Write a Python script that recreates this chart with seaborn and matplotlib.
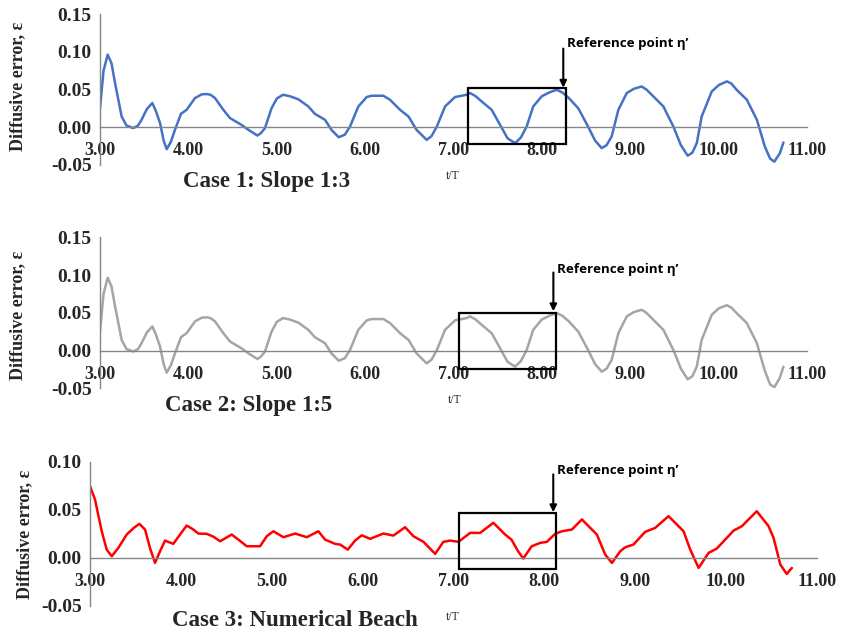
import matplotlib
matplotlib.use("Agg")
import matplotlib.pyplot as plt
from matplotlib.patches import Rectangle
from matplotlib.ticker import FormatStrFormatter, MultipleLocator
import seaborn as sns
import pandas as pd

# ---- Case 1: Slope 1:3 ----
t_case1 = [3.00, 3.04, 3.087, 3.13, 3.17, 3.245, 3.30, 3.377, 3.43, 3.47, 3.53, 3.592, 3.63, 3.68,
           3.72, 3.754, 3.80, 3.848, 3.916, 3.98, 4.075, 4.15, 4.207, 4.25, 4.30, 4.395, 4.47, 4.60,
           4.678, 4.78, 4.82, 4.866, 4.94, 5.00, 5.07, 5.15, 5.243, 5.356, 5.43, 5.545, 5.62, 5.70,
           5.77, 5.828, 5.922, 6.017, 6.07, 6.205, 6.28, 6.394, 6.49, 6.58, 6.695, 6.75, 6.81, 6.903,
           7.016, 7.148, 7.186, 7.25, 7.318, 7.43, 7.525, 7.61, 7.695, 7.76, 7.826, 7.90, 7.997, 8.08,
           8.166, 8.23, 8.30, 8.41, 8.52, 8.60, 8.675, 8.73, 8.787, 8.863, 8.958, 9.04, 9.126, 9.18,
           9.24, 9.372, 9.485, 9.57, 9.647, 9.70, 9.75, 9.805, 9.92, 10.00, 10.09, 10.14, 10.20,
           10.316, 10.43, 10.52, 10.58, 10.628, 10.69, 10.73]
eps_case1 = [0.025, 0.075, 0.0964, 0.085, 0.0587, 0.014, 0.002, -0.0013, 0.002, 0.0097, 0.024, 0.032,
             0.022, 0.005, -0.018, -0.0293, -0.020, -0.0036, 0.0177, 0.023, 0.0387, 0.0435, 0.044,
             0.043, 0.0387, 0.023, 0.012, 0.003, -0.0036, -0.0112, -0.008, -0.0013, 0.025, 0.038,
             0.043, 0.041, 0.037, 0.0275, 0.0177, 0.0097, -0.004, -0.0135, -0.010, 0.0008, 0.0275,
             0.040, 0.0417, 0.0417, 0.0364, 0.023, 0.014, -0.0036, -0.017, -0.012, 0.0008, 0.0275,
             0.040, 0.043, 0.0453, 0.041, 0.034, 0.023, 0.003, -0.015, -0.0213, -0.014, 0.0008,
             0.0275, 0.041, 0.046, 0.0497, 0.046, 0.039, 0.025, 0.0008, -0.018, -0.028, -0.024,
             -0.0125, 0.023, 0.0453, 0.051, 0.054, 0.050, 0.043, 0.0275, 0.0008, -0.024, -0.038,
             -0.034, -0.0213, 0.014, 0.0475, 0.056, 0.0608, 0.058, 0.0497, 0.0364, 0.0097, -0.026,
             -0.042, -0.0459, -0.0347, -0.0205]

# ---- Case 2: Slope 1:5 ----
t_case2 = list(t_case1)
eps_case2 = [0.025, 0.075, 0.0964, 0.085, 0.0587, 0.014, 0.002, -0.0013, 0.002, 0.0097, 0.024, 0.032,
             0.022, 0.005, -0.018, -0.0293, -0.020, -0.0036, 0.0177, 0.023, 0.0387, 0.0435, 0.044,
             0.043, 0.0387, 0.023, 0.012, 0.003, -0.0036, -0.0112, -0.008, -0.0013, 0.025, 0.038,
             0.043, 0.041, 0.037, 0.0275, 0.0177, 0.0097, -0.004, -0.0135, -0.010, 0.0008, 0.0275,
             0.040, 0.0417, 0.0417, 0.0364, 0.023, 0.014, -0.0036, -0.017, -0.012, 0.0008, 0.0275,
             0.040, 0.043, 0.0453, 0.041, 0.034, 0.023, 0.003, -0.015, -0.0213, -0.014, 0.0008,
             0.0275, 0.041, 0.046, 0.0497, 0.046, 0.039, 0.025, 0.0008, -0.018, -0.028, -0.024,
             -0.0125, 0.023, 0.0453, 0.051, 0.054, 0.050, 0.043, 0.0275, 0.0008, -0.024, -0.038,
             -0.034, -0.0213, 0.014, 0.0475, 0.056, 0.0600, 0.057, 0.0497, 0.0364, 0.0097, -0.027,
             -0.045, -0.0485, -0.036, -0.0215]

# ---- Case 3: Numerical Beach ----
t_case3 = [3.00, 3.055, 3.129, 3.184, 3.239, 3.312, 3.404, 3.48, 3.543, 3.606, 3.66, 3.716, 3.771,
           3.826, 3.917, 3.991, 4.064, 4.13, 4.193, 4.285, 4.36, 4.432, 4.56, 4.633, 4.726, 4.872,
           4.946, 5.019, 5.129, 5.258, 5.387, 5.514, 5.588, 5.698, 5.753, 5.838, 5.918, 5.992, 6.084,
           6.23, 6.34, 6.469, 6.561, 6.671, 6.80, 6.89, 6.965, 7.056, 7.185, 7.295, 7.44, 7.57, 7.64,
           7.713, 7.77, 7.862, 7.956, 8.03, 8.12, 8.195, 8.305, 8.415, 8.488, 8.58, 8.672, 8.746,
           8.837, 8.892, 8.983, 9.112, 9.222, 9.369, 9.461, 9.534, 9.608, 9.70, 9.81, 9.90, 9.993,
           10.085, 10.177, 10.34, 10.47, 10.525, 10.60, 10.67, 10.727]
eps_case3 = [0.0746, 0.0607, 0.0277, 0.0086, 0.0017, 0.0104, 0.0243, 0.031, 0.0354, 0.0295, 0.0104,
             -0.0052, 0.0069, 0.018, 0.0146, 0.0243, 0.0336, 0.030, 0.0253, 0.025, 0.022, 0.0173,
             0.0243, 0.019, 0.0121, 0.0121, 0.0225, 0.0277, 0.0215, 0.0253, 0.0215, 0.0277, 0.019,
             0.0146, 0.0139, 0.0086, 0.018, 0.0235, 0.0198, 0.0253, 0.0232, 0.0319, 0.0225, 0.0167,
             0.0042, 0.0167, 0.018, 0.0167, 0.026, 0.026, 0.0365, 0.0243, 0.019, 0.0069, -0.0007,
             0.0121, 0.0156, 0.0167, 0.025, 0.0277, 0.0295, 0.040, 0.033, 0.0243, 0.0034, -0.0052,
             0.0069, 0.011, 0.0139, 0.0271, 0.0312, 0.0434, 0.0347, 0.0277, 0.0086, -0.0104, 0.0052,
             0.0097, 0.019, 0.0284, 0.033, 0.0485, 0.033, 0.0208, -0.007, -0.0167, -0.0104]

case_titles = ["Case 1: Slope 1:3", "Case 2: Slope 1:5", "Case 3: Numerical Beach"]
x_ticks = [3, 4, 5, 6, 7, 8, 9, 10, 11]

sns.set_style("white")
plt.rcParams["font.family"] = ["Liberation Serif", "DejaVu Serif"]
plt.rcParams["font.weight"] = "bold"

W, H = 842, 634
fig = plt.figure(figsize=(W / 100, H / 100), dpi=100)
AXIS_GRAY = "#868686"


def px_axes(x0, x1, y_top, y_bot):
    return fig.add_axes([x0 / W, 1 - y_bot / H, (x1 - x0) / W, (y_bot - y_top) / H])


panels = [
    dict(t=t_case1, e=eps_case1, color="#4472C4", ylim=(-0.05, 0.15),
         rect=(100, 807.3, 14.3, 164.7), title_xy=(267, 182), tT_xy=(453, 176), ylab_xy=(18, 86),
         box=(7.16, -0.0223, 8.27, 0.0515), arrow=(8.24, 0.1044, 0.0524), ref_xy=(8.285, 0.111)),
    dict(t=t_case2, e=eps_case2, color="#A5A5A5", ylim=(-0.05, 0.15),
         rect=(100, 807.3, 237.3, 388.3), title_xy=(249, 405), tT_xy=(455, 400), ylab_xy=(18, 315),
         box=(7.06, -0.0239, 8.16, 0.050), arrow=(8.128, 0.1034, 0.0521), ref_xy=(8.17, 0.1074)),
    dict(t=t_case3, e=eps_case3, color="#FF0000", ylim=(-0.05, 0.10),
         rect=(90, 816.7, 461.7, 606), title_xy=(295, 620), tT_xy=(453, 617), ylab_xy=(25, 534),
         box=(7.06, -0.0115, 8.13, 0.0469), arrow=(8.10, 0.0868, 0.0475), ref_xy=(8.145, 0.0912)),
]

for p, title in zip(panels, case_titles):
    ax = px_axes(*p["rect"])
    df = pd.DataFrame({"t/T": p["t"], "eps": p["e"]})
    sns.lineplot(data=df, x="t/T", y="eps", ax=ax, color=p["color"], linewidth=1.8,
                 sort=False, solid_joinstyle="round", solid_capstyle="round")
    ax.set_xlim(3, 11)
    ax.set_ylim(*p["ylim"])
    ax.set_xticks(x_ticks)
    ax.yaxis.set_major_locator(MultipleLocator(0.05))
    ax.xaxis.set_major_formatter(FormatStrFormatter("%.2f"))
    ax.yaxis.set_major_formatter(FormatStrFormatter("%.2f"))
    ax.set_xlabel("")
    ax.set_ylabel("")
    ax.patch.set_alpha(0)
    for s in ("top", "right"):
        ax.spines[s].set_visible(False)
    ax.spines["bottom"].set_position(("data", 0))
    for s in ("bottom", "left"):
        ax.spines[s].set_color(AXIS_GRAY)
        ax.spines[s].set_linewidth(1.0)
    ax.tick_params(axis="x", direction="out", length=4, width=1, color=AXIS_GRAY,
                   labelsize=13, pad=7)
    ax.tick_params(axis="y", direction="out", length=4, width=1, color=AXIS_GRAY,
                   labelsize=14, pad=2)
    for lab in ax.get_xticklabels() + ax.get_yticklabels():
        lab.set_fontweight("bold")

    # highlighted window and reference point marker
    bx0, by0, bx1, by1 = p["box"]
    ax.add_patch(Rectangle((bx0, by0), bx1 - bx0, by1 - by0, fill=False, edgecolor="black",
                           linewidth=1.6, clip_on=False, zorder=5))
    axx, ay0, ay1 = p["arrow"]
    ax.annotate("", xy=(axx, ay1), xytext=(axx, ay0),
                arrowprops=dict(arrowstyle="-|>", color="black", lw=1.5, mutation_scale=10,
                                shrinkA=0, shrinkB=0), annotation_clip=False)
    ax.text(p["ref_xy"][0], p["ref_xy"][1], "Reference point \u03b7\u2019", family="Open Sans",
            fontweight="bold", fontsize=9.6, ha="left", va="center", color="black")

    fig.text(p["title_xy"][0] / W, 1 - p["title_xy"][1] / H, title, fontsize=16.5,
             fontweight="bold", ha="center", va="center")
    fig.text(p["tT_xy"][0] / W, 1 - p["tT_xy"][1] / H, "t/T", fontsize=8.5, fontweight="normal",
             ha="center", va="center")
    fig.text(p["ylab_xy"][0] / W, 1 - p["ylab_xy"][1] / H, "Diffusive error, \u03b5", fontsize=13,
             fontweight="bold", rotation=90, ha="center", va="center")

fig.savefig("out.png", dpi=100)
